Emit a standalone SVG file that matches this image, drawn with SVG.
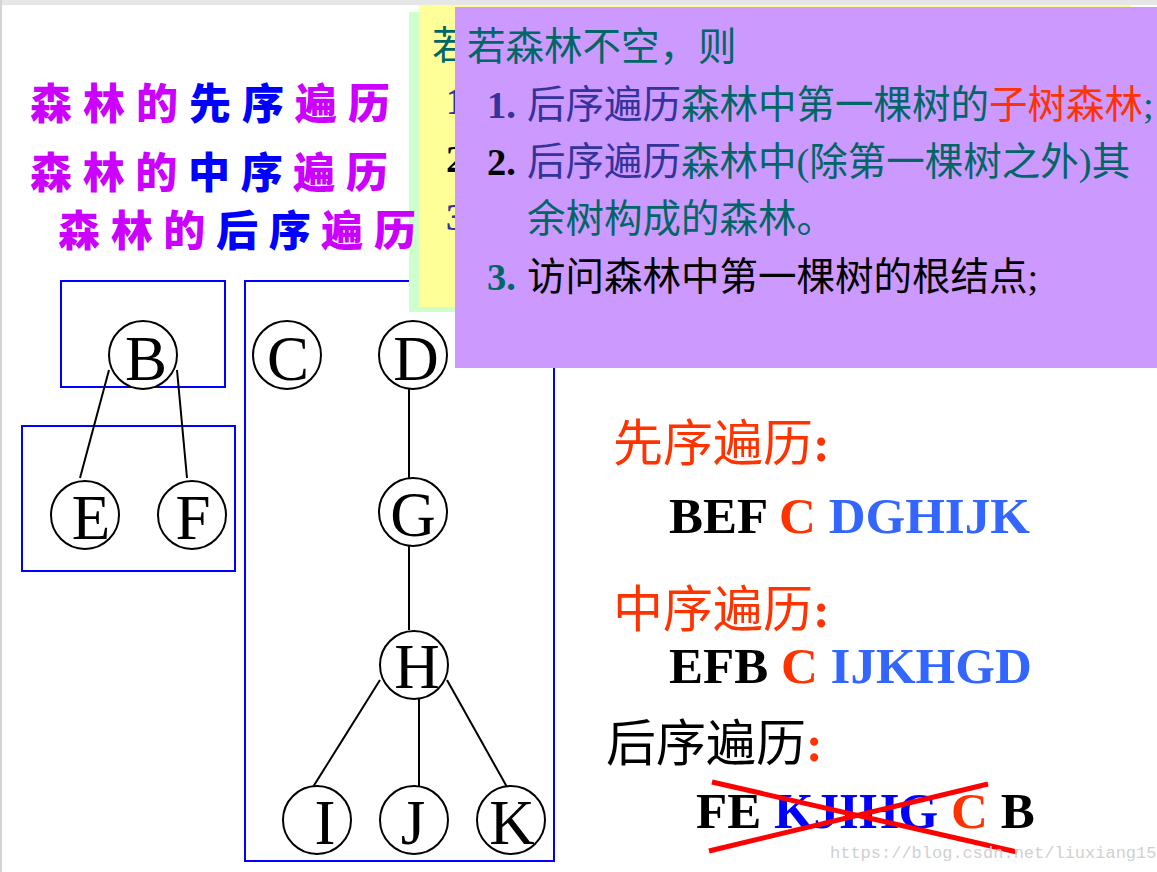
<svg xmlns="http://www.w3.org/2000/svg" width="1157" height="872" viewBox="0 0 1157 872">
<style>
.box{fill:none;stroke:#0000FF;stroke-width:2}
.edge{stroke:#000;stroke-width:2;fill:none}
.node circle{fill:#fff;stroke:#000;stroke-width:2}
.node text{font-family:"Liberation Serif",serif;font-size:63px;fill:#000;text-anchor:middle}
.title{font-family:"Noto Sans CJK SC",sans-serif;font-weight:900;font-size:42px}
.pu{fill:#CC00FF}
.bl{fill:#0000FF}
.cn{font-family:"Liberation Serif","Noto Sans CJK SC",serif;font-size:38.5px}
.num{font-weight:bold}
.teal{fill:#006666}
.dblue{fill:#333399}
.red{fill:#FF3300}
.head{font-family:"Liberation Serif","Noto Sans CJK SC",serif;font-size:50px}
.seq{font-family:"Liberation Serif",serif;font-weight:bold;font-size:51px}
.lblue{fill:#3366FF}
</style>
<rect x="0" y="0" width="1157" height="872" fill="#fff"/>
<rect x="0" y="0" width="1157" height="5" fill="#E6E6E6"/>
<rect x="0" y="0" width="2" height="872" fill="#D4D4D4"/>

<g id="boxes">
<rect class="box" x="61" y="281" width="164" height="106"/>
<rect class="box" x="22" y="426" width="213" height="145"/>
<rect class="box" x="245" y="281" width="309" height="580"/>
</g>

<g id="connectors">
<line class="edge" x1="109" y1="370" x2="80" y2="478"/>
<line class="edge" x1="177" y1="370" x2="187" y2="478"/>
<line class="edge" x1="409" y1="389" x2="409" y2="478"/>
<line class="edge" x1="409" y1="546" x2="409" y2="630"/>
<line class="edge" x1="380" y1="680" x2="313" y2="787"/>
<line class="edge" x1="419" y1="699" x2="419" y2="787"/>
<line class="edge" x1="447" y1="680" x2="507" y2="787"/>
</g>

<g id="node-B" class="node"><circle cx="143" cy="355" r="34"/><text x="146" y="380">B</text></g>
<g id="node-C" class="node"><circle cx="287" cy="355" r="34"/><text x="288" y="380">C</text></g>
<g id="node-D" class="node"><circle cx="413" cy="355" r="34"/><text x="416" y="380">D</text></g>
<g id="node-E" class="node"><circle cx="85" cy="515" r="34"/><text x="91" y="539">E</text></g>
<g id="node-F" class="node"><circle cx="192" cy="515" r="34"/><text x="193" y="539">F</text></g>
<g id="node-G" class="node"><circle cx="413" cy="512" r="34"/><text x="413" y="536">G</text></g>
<g id="node-H" class="node"><circle cx="414" cy="665" r="34"/><text x="417" y="688">H</text></g>
<g id="node-I" class="node"><circle cx="317" cy="820" r="34"/><text x="325" y="844">I</text></g>
<g id="node-J" class="node"><circle cx="414" cy="820" r="34"/><text x="413" y="844">J</text></g>
<g id="node-K" class="node"><circle cx="511" cy="820" r="34"/><text x="512" y="844">K</text></g>

<g id="panel-green"><rect x="409" y="12" width="748" height="300" fill="#CCFFCC"/></g>
<g id="panel-yellow">
<rect x="419" y="5" width="712" height="302" fill="#FFFF99"/>
<text class="cn teal" x="432" y="59">若</text>
<text class="cn num dblue" x="446" y="114">1.</text>
<text class="cn num" x="446" y="172">2.</text>
<text class="cn num dblue" x="446" y="230">3.</text>
</g>
<g id="panel-purple">
<rect x="455" y="7" width="702" height="361" fill="#CC99FF"/>
<text class="cn teal" x="467" y="60">若森林不空，则</text>
<text class="cn" y="118"><tspan class="num dblue" x="487">1.</tspan><tspan class="dblue" x="527">后序遍历</tspan><tspan class="teal">森林中第一棵树的</tspan><tspan class="red">子树森林</tspan><tspan class="teal">;</tspan></text>
<text class="cn" y="175"><tspan class="num" x="487">2.</tspan><tspan class="dblue" x="527">后序遍历</tspan><tspan class="teal">森林中(除第一棵树之外)其</tspan></text>
<text class="cn teal" x="527" y="232">余树构成的森林。</text>
<text class="cn" y="290"><tspan class="num teal" x="487">3.</tspan><tspan x="527">访问森林中第一棵树的根结点;</tspan></text>
</g>

<g id="titles">
<text class="title" x="30" y="119" textLength="360" lengthAdjust="spacing"><tspan class="pu">森林的</tspan><tspan class="bl">先序</tspan><tspan class="pu">遍历</tspan></text>
<text class="title" x="30" y="188" textLength="358" lengthAdjust="spacing"><tspan class="pu">森林的</tspan><tspan class="bl">中序</tspan><tspan class="pu">遍历</tspan></text>
<text class="title" x="58" y="246" textLength="358" lengthAdjust="spacing"><tspan class="pu">森林的</tspan><tspan class="bl">后序</tspan><tspan class="pu">遍历</tspan></text>
</g>

<g id="results">
<text class="head red" x="613" y="461">先序遍历<tspan font-weight="bold">:</tspan></text>
<text class="seq" x="669" y="533"><tspan>BEF </tspan><tspan class="red">C </tspan><tspan class="lblue">DGHIJK</tspan></text>
<text class="head red" x="613" y="627">中序遍历<tspan font-weight="bold">:</tspan></text>
<text class="seq" x="669" y="683"><tspan>EFB </tspan><tspan class="red">C </tspan><tspan class="lblue">IJKHGD</tspan></text>
<text class="head" x="606" y="761">后序遍历<tspan class="red" font-weight="bold">:</tspan></text>
<text class="seq" x="696" y="828"><tspan>FE </tspan><tspan class="bl">KJIHG </tspan><tspan class="red">C </tspan><tspan>B</tspan></text>
<line x1="712" y1="782" x2="1017" y2="852" stroke="#FF0000" stroke-width="5"/>
<line x1="709" y1="851" x2="988" y2="784" stroke="#FF0000" stroke-width="5"/>
</g>

<text x="830" y="858" font-family="Liberation Mono, monospace" font-size="17" fill="#D0D0D0">https://blog.csdn.net/liuxiang15</text>
</svg>
